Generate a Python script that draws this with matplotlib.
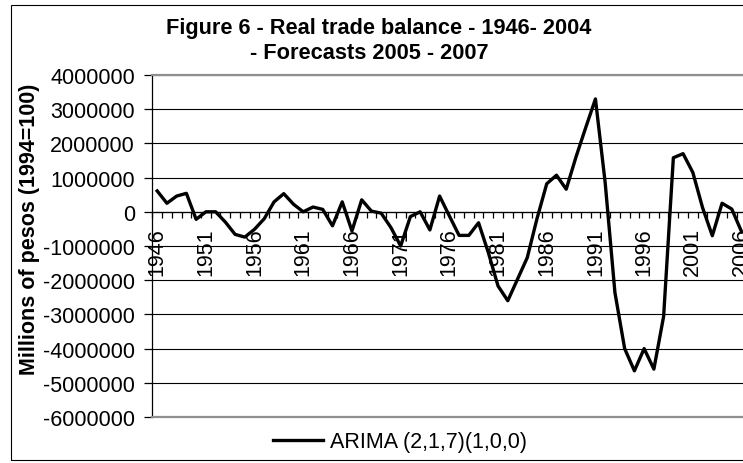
import matplotlib
matplotlib.use('Agg')
import matplotlib.pyplot as plt
from matplotlib.ticker import FixedLocator, FuncFormatter
from matplotlib.patches import Rectangle
from matplotlib.lines import Line2D

# ---- data ----
years = list(range(1946, 2007))
values = [610000, 250000, 460000, 540000, -220000, 0, 0, -300000, -660000, -740000,
          -510000, -200000, 290000, 530000, 220000, 0, 140000, 70000, -410000, 290000,
          -560000, 350000, 20000, -40000, -460000, -1000000, -140000, 0, -530000, 460000,
          -120000, -690000, -690000, -320000, -1190000, -2170000, -2600000, -1970000, -1340000, -200000,
          820000, 1070000, 660000, 1600000, 2460000, 3300000, 850000, -2360000, -4000000, -4650000,
          -4000000, -4600000, -3060000, 1580000, 1700000, 1150000, 120000, -700000, 250000, 80000,
          -580000]
series_label = "ARIMA (2,1,7)(1,0,0)"
title_line1 = "Figure 6 - Real trade balance - 1946- 2004"
title_line2 = "- Forecasts 2005 - 2007"
y_label = "Millions of pesos (1994=100)"
y_ticks = list(range(-6000000, 4000001, 1000000))
x_tick_years = list(range(1946, 2007, 5))

plt.rcParams['font.family'] = ['Liberation Sans', 'DejaVu Sans']
plt.rcParams['axes.unicode_minus'] = False

W, H = 743, 464
fig = plt.figure(figsize=(W / 100, H / 100), dpi=100)
fig.patch.set_facecolor('white')


def fx(px):
    return px / W


def fy(py):
    return 1 - py / H


left, right, top, bottom = 152.3, 746.4, 76, 418
ax = fig.add_axes([fx(left), fy(bottom), (right - left) / W, (bottom - top) / H])
ax.set_facecolor('white')

line, = ax.plot(years, values, color='black', lw=2.4, label=series_label,
                solid_joinstyle='round', zorder=5)

ax.set_xlim(years[0] - 0.5, years[-1] + 0.5)
ax.set_ylim(y_ticks[0], y_ticks[-1])

# gridlines
ax.set_yticks(y_ticks)
ax.yaxis.grid(True, color='black', lw=0.8)
ax.set_axisbelow(True)
ax.yaxis.set_major_formatter(FuncFormatter(lambda v, p: f"{int(round(v))}"))

# spines
ax.spines['top'].set_visible(False)
ax.spines['right'].set_visible(False)
ax.spines['left'].set_color('black')
ax.spines['left'].set_linewidth(0.9)
ax.spines['bottom'].set_position(('data', 0))
ax.spines['bottom'].set_color('black')
ax.spines['bottom'].set_linewidth(0.9)

# gray plot-area border top/bottom
for yy in (0, 1):
    ax.plot([0, 1], [yy, yy], transform=ax.transAxes, color='#8f8f8f', lw=1.6,
            clip_on=False, zorder=3)

# x ticks
ax.xaxis.set_major_locator(FixedLocator(x_tick_years))
ax.xaxis.set_minor_locator(FixedLocator([y - 0.5 for y in years] + [years[-1] + 0.5]))
ax.set_xticklabels([str(y) for y in x_tick_years], rotation=90, fontsize=15.5)
ax.tick_params(axis='x', which='major', length=0, pad=11)
ax.tick_params(axis='x', which='minor', length=4, width=0.9, direction='out', color='black')

# y ticks
ax.tick_params(axis='y', which='major', length=6, width=0.9, direction='out',
               labelsize=15.5, pad=6.5, color='black')

# y label
fig.text(fx(30), fy(229.5), y_label, rotation=90, ha='center', va='center',
         fontsize=15.5, fontweight='bold')

# title
fig.text(fx(379), fy(34.3), title_line1, ha='center', va='baseline',
         fontsize=15.7, fontweight='bold')
fig.text(fx(369), fy(59.3), title_line2, ha='center', va='baseline',
         fontsize=15.7, fontweight='bold')

# legend
fig.legend(handles=[Line2D([0], [0], color='black', lw=2.4)], labels=[series_label],
           loc='center left', bbox_to_anchor=(fx(272.7), fy(443)), frameon=False,
           borderpad=0, borderaxespad=0, handlelength=2.32, handletextpad=0.33,
           fontsize=15.5)

# chart border
fig.add_artist(Rectangle((fx(11), fy(461)), (748 - 11) / W, (461 - 6) / H,
                         transform=fig.transFigure, fill=False, ec='black', lw=0.8))

fig.savefig('out.png', dpi=100)
